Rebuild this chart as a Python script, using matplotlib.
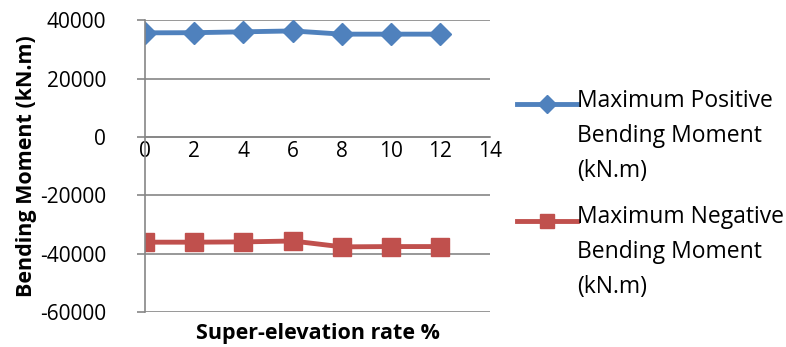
import matplotlib
matplotlib.use("Agg")
from matplotlib import pyplot as plt
from matplotlib.legend_handler import HandlerLine2D

plt.rcParams['font.family'] = ['Open Sans', 'DejaVu Sans']
plt.rcParams['axes.unicode_minus'] = False

rate = [0, 2, 4, 6, 8, 10, 12]
pos_moment = [35650, 35700, 36000, 36300, 35200, 35200, 35200]
neg_moment = [-36000, -36000, -35900, -35600, -37600, -37500, -37500]
labels = ['Maximum Positive\nBending Moment\n(kN.m)',
          'Maximum Negative\nBending Moment\n(kN.m)']


# put the legend handle next to the first line of a multi-line label
class TopLineHandler(HandlerLine2D):
    def __init__(self, shift, **kw):
        super().__init__(**kw)
        self.shift = shift

    def create_artists(self, legend, orig_handle, xdescent, ydescent,
                       width, height, fontsize, trans):
        return super().create_artists(legend, orig_handle, xdescent, ydescent,
                                      width, height + 2 * self.shift,
                                      fontsize, trans)


fig = plt.figure(figsize=(7.86, 3.47), dpi=100)
ax = fig.add_axes([0.1845, 0.10, 0.4385, 0.842])

l1, = ax.plot(rate, pos_moment, color='#4F81BD', lw=3.5, marker='D', ms=11,
              label=labels[0])
l2, = ax.plot(rate, neg_moment, color='#C0504D', lw=3.5, marker='s', ms=13,
              label=labels[1])

ax.set_xlim(0, 14)
ax.set_ylim(-60000, 40000)
ax.set_xticks(range(0, 15, 2))
ax.set_yticks(range(-60000, 40001, 20000))
ax.yaxis.grid(True, color='#868686', lw=1.2)
ax.set_axisbelow(True)

for s in ['top', 'right']:
    ax.spines[s].set_visible(False)
ax.spines['bottom'].set_position(('data', 0))
for s in ['bottom', 'left']:
    ax.spines[s].set_color('#868686')
    ax.spines[s].set_linewidth(1.2)
ax.tick_params(axis='both', colors='#868686', labelcolor='black', labelsize=15,
               width=1.2)
ax.tick_params(axis='x', direction='out', length=0, pad=3)
ax.tick_params(axis='y', direction='out', length=6, pad=22)

ax.set_ylabel('Bending Moment (kN.m)', fontsize=15.5, fontweight='bold', labelpad=2)
fig.text(0.405, 0.04, 'Super-elevation rate %', fontsize=15.5, fontweight='bold',
         ha='center', va='center')

shift = 23.5
leg = ax.legend(loc='center left', bbox_to_anchor=(1.02, 0.405), frameon=False,
                fontsize=16.5, handlelength=2.6, labelspacing=1.0,
                handletextpad=0.0, markerscale=0.8,
                handler_map={l1: TopLineHandler(shift), l2: TopLineHandler(shift)})
for t in leg.get_texts():
    t.set_linespacing(1.6)

plt.savefig('out.png', dpi=100)
